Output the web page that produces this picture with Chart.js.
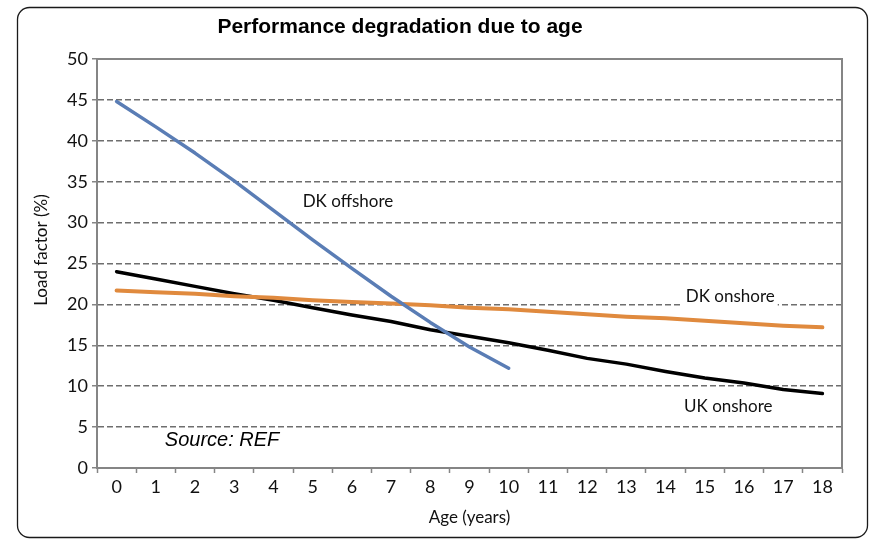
<!DOCTYPE html>
<html>
<head>
<meta charset="utf-8">
<title>Performance degradation due to age</title>
<script src="https://cdn.jsdelivr.net/npm/chart.js@4.4.1/dist/chart.umd.min.js"></script>
<style>
  html, body { margin: 0; padding: 0; background: #fff; }
  #wrap { width: 891px; height: 558px; position: relative; }
</style>
</head>
<body>
<div id="wrap"><canvas id="chart"></canvas></div>
<script>
const ages = ['0', '1', '2', '3', '4', '5', '6', '7', '8', '9', '10', '11', '12', '13', '14', '15', '16', '17', '18'];

// load factor (%)
const dkOffshore = [44.8, 41.7, 38.5, 35.1, 31.5, 27.9, 24.4, 21.0, 17.8, 14.8, 12.2];
const dkOnshore = [21.7, 21.5, 21.3, 21.0, 20.8, 20.5, 20.3, 20.1, 19.9, 19.6, 19.4, 19.1, 18.8, 18.5, 18.3, 18.0, 17.7, 17.4, 17.2];
const ukOnshore = [24.0, 23.1, 22.2, 21.3, 20.5, 19.6, 18.7, 17.9, 16.9, 16.1, 15.3, 14.4, 13.4, 12.7, 11.8, 11.0, 10.4, 9.6, 9.1];

const seriesNames = ['DK offshore', 'DK onshore', 'UK onshore'];
const yMin = 0;
const yMax = 50;
const yStep = 5;

const titleText = 'Performance degradation due to age';
const yTitleText = 'Load factor (%)';
const sourceText = 'Source: REF';

const FONT = 'Lato, "Open Sans", sans-serif';
const TEXT = '#111';
const AXIS_GREY = '#858585';

// in-chart labels, placed in data units (category index, load factor)
const inlineLabels = [
  { text: seriesNames[0], x: 5.9, y: 32.6, bg: false },
  { text: seriesNames[1], x: 15.65, y: 21.0, bg: true },
  { text: seriesNames[2], x: 15.6, y: 7.5, bg: true }
];

const decorPlugin = {
  id: 'decor',
  beforeDraw(chart) {
    const { ctx } = chart;
    ctx.save();
    ctx.fillStyle = '#fff';
    ctx.fillRect(0, 0, chart.width, chart.height);
    ctx.strokeStyle = '#1a1a1a';
    ctx.lineWidth = 1.3;
    ctx.beginPath();
    ctx.roundRect(17.5, 7.5, 850, 530, 12);
    ctx.stroke();
    ctx.restore();
  },
  beforeDatasetsDraw(chart) {
    // solid top and right frame of the plot
    const { ctx, chartArea: a } = chart;
    ctx.save();
    ctx.strokeStyle = AXIS_GREY;
    ctx.lineWidth = 2;
    ctx.beginPath();
    ctx.moveTo(a.left, a.top);
    ctx.lineTo(a.right, a.top);
    ctx.lineTo(a.right, a.bottom);
    ctx.stroke();
    ctx.restore();
  },
  afterDatasetsDraw(chart) {
    const { ctx, scales } = chart;
    ctx.save();
    ctx.font = '17px ' + FONT;
    ctx.textBaseline = 'middle';
    ctx.textAlign = 'center';
    inlineLabels.forEach((l) => {
      const px = scales.x.getPixelForValue(l.x);
      const py = scales.y.getPixelForValue(l.y);
      if (l.bg) {
        const w = ctx.measureText(l.text).width;
        ctx.fillStyle = '#fff';
        ctx.fillRect(px - w / 2 - 3, py - 11, w + 6, 22);
      }
      ctx.fillStyle = TEXT;
      ctx.fillText(l.text, px, py);
    });

    // y axis title, sits a little above the plot middle in the original
    ctx.save();
    ctx.translate(42, 250);
    ctx.rotate(-Math.PI / 2);
    ctx.font = '17px ' + FONT;
    ctx.fillText(yTitleText, 0, 0);
    ctx.restore();

    // source note
    ctx.font = 'italic 20px "Liberation Sans", Arial, sans-serif';
    ctx.textAlign = 'left';
    ctx.fillStyle = '#000';
    ctx.fillText(sourceText, scales.x.getPixelForValue(1.23), scales.y.getPixelForValue(3.4));

    // title
    ctx.font = 'bold 21px "Liberation Sans", Arial, sans-serif';
    ctx.textAlign = 'center';
    ctx.fillText(titleText, 400, 27);
    ctx.restore();
  }
};

new Chart(document.getElementById('chart'), {
  type: 'line',
  data: {
    labels: ages,
    datasets: [
      { label: seriesNames[0], data: dkOffshore, borderColor: '#5a7db5', borderWidth: 3.5 },
      { label: seriesNames[1], data: dkOnshore, borderColor: '#e08a3e', borderWidth: 4 },
      { label: seriesNames[2], data: ukOnshore, borderColor: '#000000', borderWidth: 3.5 }
    ]
  },
  options: {
    responsive: true,
    maintainAspectRatio: false,
    animation: false,
    layout: { padding: { top: 59, right: 49, left: 0, bottom: 0 } },
    elements: {
      point: { radius: 0, hoverRadius: 0 },
      line: { tension: 0, borderCapStyle: 'round', borderJoinStyle: 'round', fill: false }
    },
    plugins: {
      legend: { display: false },
      tooltip: { enabled: false }
    },
    scales: {
      x: {
        offset: true,
        grid: {
          offset: true,
          drawOnChartArea: false,
          drawTicks: true,
          tickLength: 5,
          tickColor: AXIS_GREY,
          tickWidth: 1.5
        },
        border: { color: AXIS_GREY, width: 2 },
        ticks: { color: TEXT, font: { family: FONT, size: 18 }, padding: 3, maxRotation: 0, autoSkip: false },
        title: { display: true, text: 'Age (years)', color: TEXT, font: { family: FONT, size: 17 }, padding: { bottom: 30 } },
        afterFit(scale) { scale.height = 90; }
      },
      y: {
        min: yMin,
        max: yMax,
        ticks: { stepSize: yStep, color: TEXT, font: { family: FONT, size: 18 }, padding: 4 },
        grid: {
          color: '#6e6e6e',
          lineWidth: 1.5,
          tickLength: 5,
          tickColor: AXIS_GREY,
          tickWidth: 1.5,
          tickBorderDash: []
        },
        border: { color: AXIS_GREY, width: 2, dash: [6, 3] },
        afterFit(scale) { scale.width = 97; }
      }
    }
  },
  plugins: [decorPlugin]
});
</script>
</body>
</html>
